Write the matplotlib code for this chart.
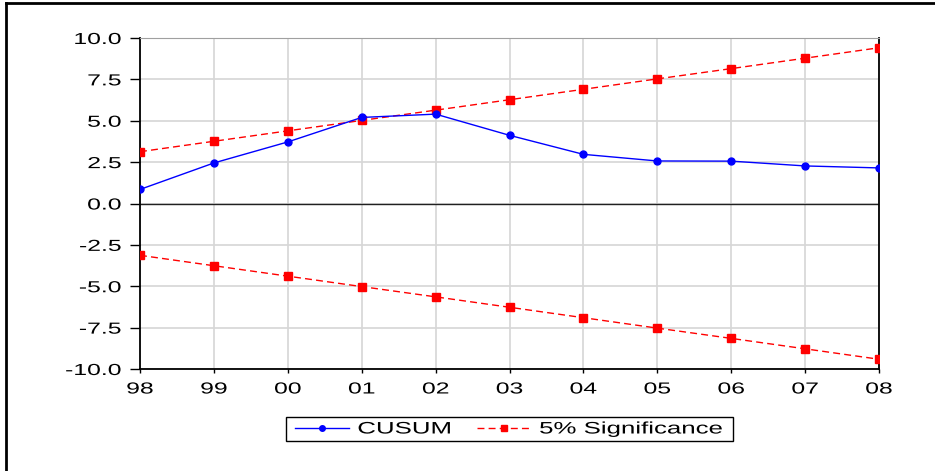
import matplotlib
matplotlib.use("Agg")
import matplotlib.pyplot as plt
from matplotlib.lines import Line2D
from matplotlib.patches import Rectangle
from matplotlib.patheffects import AbstractPathEffect
from matplotlib.transforms import Affine2D

years = ["98", "99", "00", "01", "02", "03", "04", "05", "06", "07", "08"]
cusum = [0.85, 2.45, 3.72, 5.2, 5.4, 4.12, 2.97, 2.57, 2.56, 2.27, 2.15]
upper = [3.13, 3.76, 4.39, 5.02, 5.64, 6.27, 6.90, 7.53, 8.15, 8.78, 9.41]
lower = [-3.13, -3.76, -4.39, -5.02, -5.64, -6.27, -6.90, -7.53, -8.15, -8.78, -9.41]
yticks = [-10.0, -7.5, -5.0, -2.5, 0.0, 2.5, 5.0, 7.5, 10.0]


class Stretch(AbstractPathEffect):
    """Horizontally widen text glyphs (the reference uses a wide face)."""
    def __init__(self, sx, anchor='center'):
        super().__init__()
        self.sx = sx
        self.anchor = anchor

    def draw_path(self, renderer, gc, tpath, affine, rgbFace=None):
        ext = tpath.get_extents()
        if self.anchor == 'right':
            cx = ext.x1
        elif self.anchor == 'left':
            cx = ext.x0
        else:
            cx = (ext.x0 + ext.x1) / 2
        t = Affine2D().translate(-cx, 0).scale(self.sx, 1).translate(cx, 0) + affine
        renderer.draw_path(gc, tpath, t, rgbFace)


plt.rcParams['font.family'] = ['Liberation Sans', 'DejaVu Sans']

W, H = 935, 471
fig = plt.figure(figsize=(W / 100, H / 100), dpi=100)
ax = fig.add_axes([140 / W, 1 - 369 / H, (879 - 140) / W, (369 - 38) / H])

x = list(range(len(years)))
ax.plot(x, cusum, color='#0000ff', lw=1.0, marker='o', ms=5, label='CUSUM', zorder=4)
ax.plot(x, upper, color='#ff0000', lw=1.0, ls=(0, (5, 3)), marker='s', ms=6,
        label='5% Significance', zorder=3)
ax.plot(x, lower, color='#ff0000', lw=1.0, ls=(0, (5, 3)), marker='s', ms=6, zorder=3)
ax.axhline(0, color='#202020', lw=1.0, zorder=2)

ax.set_xlim(0, len(years) - 1)
ax.set_ylim(-10, 10)
ax.set_xticks(x)
ax.set_xticklabels(years)
ax.set_yticks(yticks)
ax.set_yticklabels([f"{v:.1f}" for v in yticks])
ax.grid(True, color='#d6d6d6', lw=1.2, zorder=0)
ax.set_axisbelow(True)
ax.tick_params(axis='y', direction='out', length=7.5, width=1, pad=6,
               labelsize=11.5, colors='black')
ax.tick_params(axis='x', direction='out', length=3, width=1, pad=6,
               labelsize=11.5, colors='black')
ax.spines['top'].set_color('#a0a0a0')
for s in ['left', 'right', 'bottom']:
    ax.spines[s].set_linewidth(1.3)
    ax.spines[s].set_color('black')

SX_TICK = 1.55
SX_LEG = 1.55
LEG_FS = 12
fs_px = LEG_FS * 100 / 72

leg = ax.legend(loc='center', bbox_to_anchor=(0.5, -60 / 331), ncol=2, frameon=False,
                fontsize=LEG_FS, handlelength=3.25, columnspacing=3.5, borderpad=0.0,
                handletextpad=0.5, markerscale=0.8)

fig.canvas.draw()
for lbl in ax.get_yticklabels():
    lbl.set_path_effects([Stretch(SX_TICK, 'right')])
for lbl in ax.get_xticklabels():
    lbl.set_path_effects([Stretch(SX_TICK, 'center')])
texts = leg.get_texts()
for t in texts:
    t.set_path_effects([Stretch(SX_LEG, 'left')])

# adjust column spacing so stretched first label keeps its gap
w1 = texts[0].get_window_extent().width
w2 = texts[1].get_window_extent().width
leg.columnspacing = (24 + (SX_LEG - 1) * w1) / fs_px
fig.canvas.draw()
extra = (SX_LEG - 1) * w2
axw = ax.get_window_extent().width
leg.set_bbox_to_anchor((0.5 - extra / 2 / axw, -60 / 331), transform=ax.transAxes)
fig.canvas.draw()
bb = leg.get_window_extent()
x0 = bb.x0 - 9
x1 = bb.x1 + extra + 9
yc = (bb.y0 + bb.y1) / 2
frame = Rectangle((x0 / W, (yc - 12) / H), (x1 - x0) / W, 24 / H, transform=fig.transFigure,
                  fill=False, edgecolor='black', lw=1.0)
fig.add_artist(frame)

fig.add_artist(Line2D([6 / W, 1.0], [1 - 3 / H, 1 - 3 / H], transform=fig.transFigure,
                      color='black', lw=2))
fig.add_artist(Line2D([6 / W, 6 / W], [1 - 3 / H, 1 - 470 / H], transform=fig.transFigure,
                      color='black', lw=2))

fig.savefig("out.png", dpi=100)
